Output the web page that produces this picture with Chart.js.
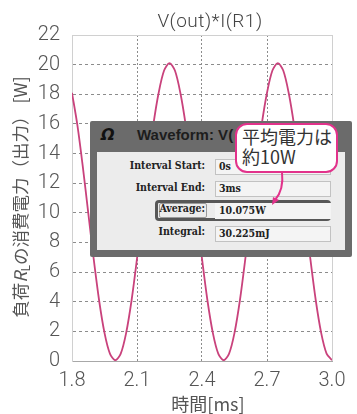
<!DOCTYPE html>
<html><head><meta charset="utf-8">
<script src="https://cdn.jsdelivr.net/npm/chart.js@4"></script>
<style>
html,body{margin:0;padding:0;background:#fff;}
#wrap{position:relative;width:357px;height:414px;overflow:hidden;font-family:"Liberation Sans",Arial,sans-serif;}
#c{position:absolute;left:0;top:0;}
.abs{position:absolute;white-space:nowrap;}
#title{left:110px;width:200px;top:9px;height:24px;line-height:24px;text-align:center;font-family:"Roboto","Liberation Sans",sans-serif;font-weight:300;font-size:19px;color:#444;letter-spacing:0.5px;}
#ytitle{left:-130px;top:185px;width:300px;height:24px;line-height:24px;text-align:center;transform:rotate(-90deg);transform-origin:150px 12px;font-family:"Noto Sans CJK JP",sans-serif;font-size:17.5px;color:#555;}
#ytitle sub{font-size:12px;vertical-align:-3px;line-height:0;}
#ytitle i{font-family:"Noto Sans CJK JP",sans-serif;font-style:italic;}
#xtitle{left:150px;width:116px;top:391px;height:24px;line-height:24px;text-align:center;font-family:"Noto Sans CJK JP",sans-serif;font-size:18px;color:#555;}
#dlg{left:90px;top:121px;width:262px;height:136px;background:#6b6b6b;border-radius:2px;}
#panel{left:97px;top:152px;width:248px;height:98px;background:#ececec;}
#icon{left:101px;top:125px;font:italic bold 16px "DejaVu Sans",sans-serif;color:#111;}
#wtitle{left:137px;top:126px;font:bold 15px "Liberation Sans",sans-serif;color:#1d1d1d;}
.lab{left:100px;width:105px;text-align:right;height:16px;line-height:16px;font:bold 10.5px "DejaVu Serif Condensed","DejaVu Serif",serif;color:#222;}
.val{left:215px;width:116px;height:16px;line-height:15px;box-sizing:border-box;background:#f4f4f4;border:1px solid #c2c2c2;padding-left:3px;font:bold 10.5px "DejaVu Serif Condensed","DejaVu Serif",serif;color:#222;}
#hl{left:155px;top:200px;width:176px;height:21px;box-sizing:border-box;border:3px solid #575757;border-radius:4px;}
#hlab{left:159px;top:203px;width:48px;height:15px;box-sizing:border-box;border:1px solid #9a9a9a;border-radius:2px;}
#bubble{left:235px;top:123px;width:103px;height:50px;box-sizing:border-box;background:#fff;border:2px solid #e2328b;border-radius:12px;padding:1px 0 0 5px;font-family:"Noto Sans CJK JP",sans-serif;font-size:18px;line-height:20px;color:#333;}
#tail{left:0;top:0;}
</style></head><body>
<div id="wrap">
<canvas id="c" width="357" height="414"></canvas>
<div id="title" class="abs">V(out)*I(R1)</div>
<div id="ytitle" class="abs">負荷<i>R</i><sub>L</sub>の消費電力（出力） [W]</div>
<div id="xtitle" class="abs">時間[ms]</div>
<div id="dlg" class="abs"></div>
<div id="panel" class="abs"></div>
<div id="icon" class="abs">Ω</div>
<div id="wtitle" class="abs">Waveform: V(</div>
<div class="abs lab" style="top:159px">Interval Start:</div>
<div class="abs val" style="top:159px">0s</div>
<div class="abs lab" style="top:181px">Interval End:</div>
<div class="abs val" style="top:181px">3ms</div>
<div id="hl" class="abs"></div>
<div id="hlab" class="abs"></div>
<div class="abs lab" style="top:202px">Average:</div>
<div class="abs val" style="top:203px;border-color:#f4f4f4">10.075W</div>
<div class="abs lab" style="top:225px">Integral:</div>
<div class="abs val" style="top:226px">30.225mJ</div>
<svg id="tail" class="abs" width="357" height="414">
<path d="M282 172 Q284 190 275 200" fill="none" stroke="#e2328b" stroke-width="2"/>
<path d="M272 205 L273 197 L279 200 Z" fill="#e2328b"/>
</svg>
<div id="bubble" class="abs">平均電力は<br>約10W</div>
</div>
<script>
const times=[1.8,1.825,1.85,1.875,1.9,1.925,1.95,1.975,2.0,2.025,2.05,2.075,2.1,2.125,2.15,2.175,2.2,2.225,2.25,2.275,2.3,2.325,2.35,2.375,2.4,2.425,2.45,2.475,2.5,2.525,2.55,2.575,2.6,2.625,2.65,2.675,2.7,2.725,2.75,2.775,2.8,2.825,2.85,2.875,2.9,2.925,2.95,2.975,3.0];
const power=[18.1,15.9,13.1,10.0,6.9,4.1,1.9,0.5,0.05,0.5,1.9,4.1,6.9,10.0,13.1,15.9,18.1,19.6,20.1,19.6,18.1,15.9,13.1,10.0,6.9,4.1,1.9,0.5,0.05,0.5,1.9,4.1,6.9,10.0,13.1,15.9,18.1,19.6,20.1,19.6,18.1,15.9,13.1,10.0,6.9,4.1,1.9,0.5,0.05];
const xTicks=[1.8,2.1,2.4,2.7,3.0];
const yTicks=[0,2,4,6,8,10,12,14,16,18,20,22];

const tickFont={family:"Roboto, 'Liberation Sans', sans-serif",size:20,weight:300};
function edge(ctx,n){return ctx.tick===undefined||ctx.index===0||ctx.index===n-1;}
new Chart(document.getElementById('c'),{
  type:'line',
  data:{datasets:[{data:times.map((t,i)=>({x:t,y:power[i]})),borderColor:'#c9427c',borderWidth:1.8,pointRadius:0,tension:0.3,fill:false}]},
  options:{
    responsive:false,animation:false,
    layout:{padding:{left:0,top:35,right:25,bottom:0}},
    plugins:{legend:{display:false},tooltip:{enabled:false},title:{display:false}},
    scales:{
      x:{type:'linear',min:1.8,max:3.0,
        afterBuildTicks:s=>{s.ticks=xTicks.map(v=>({value:v}));},
        afterFit:s=>{s.height=53;},
        ticks:{callback:v=>v.toFixed(1),font:tickFont,color:'#555',padding:8,maxRotation:0,autoSkip:false},
        grid:{drawTicks:false,color:ctx=>edge(ctx,xTicks.length)?'#d0d0d0':'#8c8c8c',lineWidth:1},
        border:{display:true,color:'#a8a8a8',width:1,dash:ctx=>edge(ctx,xTicks.length)?[]:[2,2]}
      },
      y:{min:0,max:22,
        afterBuildTicks:s=>{s.ticks=yTicks.map(v=>({value:v}));},
        afterFit:s=>{s.width=72;},
        ticks:{callback:v=>String(v),font:tickFont,color:'#555',padding:12,autoSkip:false},
        grid:{drawTicks:false,color:ctx=>edge(ctx,yTicks.length)?'#d0d0d0':'#8c8c8c',lineWidth:1},
        border:{display:true,color:'#d0d0d0',width:1,dash:ctx=>edge(ctx,yTicks.length)?[]:[3,3]}
      }
    }
  }
});
</script>
</body></html>
